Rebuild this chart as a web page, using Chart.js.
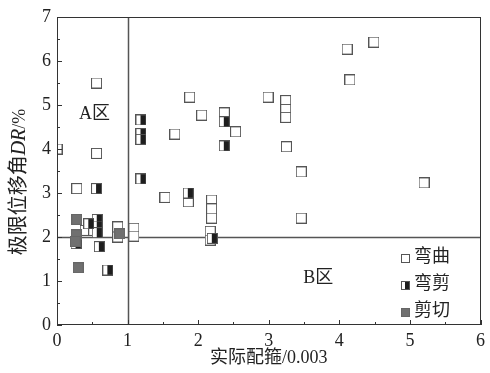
<!DOCTYPE html>
<html>
<head>
<meta charset="utf-8">
<script src="https://cdn.jsdelivr.net/npm/chart.js@4.4.0/dist/chart.umd.min.js"></script>
<style>
    html, body { margin: 0; padding: 0; background: #fff; }
</style>
</head>
<body>
<canvas id="myChart" width="490" height="373"></canvas>
<script>
// 弯曲 (bending)
const bendX = [0, 0.56, 0.56, 0.28, 0.40, 0.52, 0.86, 0.86, 1.09, 1.09, 1.67, 1.88, 2.05, 2.53, 2.99,
    3.24, 3.24, 3.24, 3.25, 3.46, 3.46, 1.53, 1.86, 2.19, 2.19, 2.19, 2.17, 2.17, 4.11, 4.49, 4.15, 5.2, 2.37];
const bendY = [4.0, 5.5, 3.9, 3.1, 2.15, 2.15, 2.23, 2.0, 2.2, 2.02, 4.34, 5.18, 4.77, 4.39, 5.18,
    5.1, 4.9, 4.72, 4.05, 3.48, 2.43, 2.9, 2.8, 2.84, 2.64, 2.43, 2.13, 1.93, 6.27, 6.43, 5.57, 3.23, 4.82];

// 弯剪 (bending-shear)
const mixX = [0.56, 0.57, 0.57, 0.57, 0.45, 0.6, 0.72, 0.27, 1.19, 1.19, 1.19, 1.19, 1.86, 2.37, 2.37, 2.2];
const mixY = [3.1, 2.4, 2.25, 2.1, 2.3, 1.78, 1.25, 1.85, 4.66, 4.35, 4.22, 3.32, 3.0, 4.62, 4.07, 1.97];

// 剪切 (shear)
const shearX = [0.28, 0.27, 0.26, 0.3, 0.89];
const shearY = [2.4, 2.05, 1.9, 1.3, 2.07];

const seriesNames = ['弯曲', '弯剪', '剪切'];
const xTicks = [0, 1, 2, 3, 4, 5, 6];
const yTicks = [0, 1, 2, 3, 4, 5, 6, 7];
const splitX = 1;
const splitY = 2;

const serif = '"Liberation Serif", "Noto Sans CJK SC", serif';

function makeMarker(kind, s) {
    const c = document.createElement('canvas');
    c.width = s; c.height = s;
    const g = c.getContext('2d');
    g.fillStyle = '#fff';
    g.fillRect(0, 0, s, s);
    let edge = '#555';
    if (kind === 'shear') {
        g.fillStyle = '#707070';
        g.fillRect(0, 0, s, s);
        edge = '#666';
    }
    if (kind === 'mixed') {
        g.fillStyle = '#1e1e1e';
        g.fillRect(Math.floor(s / 2), 0, Math.ceil(s / 2), s);
    }
    g.strokeStyle = edge;
    g.lineWidth = 1;
    g.strokeRect(0.5, 0.5, s - 1, s - 1);
    return c;
}

const mBend = makeMarker('bend', 11);
const mMix = makeMarker('mixed', 11);
const mShear = makeMarker('shear', 11);
const legendMarkers = [makeMarker('bend', 9), makeMarker('mixed', 9), makeMarker('shear', 9)];

function pts(xs, ys) {
    return xs.map(function (x, i) { return {x: x, y: ys[i]}; });
}

const framePlugin = {
    id: 'frame',
    beforeDatasetsDraw: function (chart) {
        const ctx = chart.ctx;
        const xs = chart.scales.x, ys = chart.scales.y;
        const a = chart.chartArea;
        ctx.save();
        ctx.strokeStyle = '#555';
        ctx.lineWidth = 1.5;
        ctx.beginPath();
        const px = Math.round(xs.getPixelForValue(splitX)) + 0.5;
        const py = Math.round(ys.getPixelForValue(splitY)) + 0.5;
        ctx.moveTo(px, a.top); ctx.lineTo(px, a.bottom);
        ctx.moveTo(a.left, py); ctx.lineTo(a.right, py);
        ctx.stroke();
        ctx.restore();
    },
    afterDraw: function (chart) {
        const ctx = chart.ctx;
        const xs = chart.scales.x, ys = chart.scales.y;
        const a = chart.chartArea;
        ctx.save();
        ctx.strokeStyle = '#333';
        ctx.lineWidth = 1;
        ctx.strokeRect(Math.round(a.left) + 0.5, Math.round(a.top) + 0.5,
            Math.round(a.right - a.left) - 1, Math.round(a.bottom - a.top) - 1);

        // inward ticks
        ctx.beginPath();
        for (let v = 0; v <= 6.001; v += 0.5) {
            const x = Math.round(xs.getPixelForValue(v)) + 0.5;
            const len = (v % 1 === 0) ? 5 : 3;
            ctx.moveTo(x, a.bottom); ctx.lineTo(x, a.bottom - len);
        }
        for (let v = 0; v <= 7.001; v += 0.5) {
            const y = Math.round(ys.getPixelForValue(v)) + 0.5;
            const len = (v % 1 === 0) ? 5 : 3;
            ctx.moveTo(a.left, y); ctx.lineTo(a.left + len, y);
        }
        ctx.stroke();

        // region labels
        ctx.fillStyle = '#222';
        ctx.font = '18px ' + serif;
        ctx.textAlign = 'center';
        ctx.textBaseline = 'middle';
        ctx.fillText('A区', xs.getPixelForValue(0.53), ys.getPixelForValue(4.8));
        ctx.fillText('B区', xs.getPixelForValue(3.7), ys.getPixelForValue(1.07));

        // legend
        ctx.textAlign = 'left';
        const rows = [258, 285, 312];
        for (let i = 0; i < 3; i++) {
            const m = legendMarkers[i];
            ctx.drawImage(m, 401, rows[i] - 4);
            ctx.fillText(seriesNames[i], 414, rows[i] - 1);
        }

        // y title, rotated, with italic DR
        const parts = [
            {t: '极限位移角', f: '20px ' + serif},
            {t: 'DR', f: 'italic 20px ' + serif},
            {t: '/%', f: '18px ' + serif}
        ];
        let total = 0;
        parts.forEach(function (p) { ctx.font = p.f; p.w = ctx.measureText(p.t).width; total += p.w; });
        ctx.translate(20, 182);
        ctx.rotate(-Math.PI / 2);
        let cx = -total / 2;
        parts.forEach(function (p) {
            ctx.font = p.f;
            ctx.fillText(p.t, cx, 0);
            cx += p.w;
        });
        ctx.restore();
    }
};

let ctx = document.getElementById('myChart').getContext('2d');
let myChart = new Chart(ctx, {
    type: 'scatter',
    data: {
        datasets: [{
            label: seriesNames[2],
            data: pts(shearX, shearY),
            pointStyle: mShear,
            pointRadius: 5,
            clip: 0
        }, {
            label: seriesNames[1],
            data: pts(mixX, mixY),
            pointStyle: mMix,
            pointRadius: 5,
            clip: 0
        }, {
            label: seriesNames[0],
            data: pts(bendX, bendY),
            pointStyle: mBend,
            pointRadius: 5,
            clip: 0
        }]
    },
    options: {
        responsive: false,
        animation: false,
        layout: {padding: {top: 17, right: 8, left: 0, bottom: 0}},
        plugins: {
            legend: {display: false},
            tooltip: {enabled: false}
        },
        scales: {
            x: {
                type: 'linear',
                min: 0, max: 6,
                afterFit: function (s) { s.height = 48; },
                afterBuildTicks: function (s) { s.ticks = xTicks.map(function (v) { return {value: v}; }); },
                grid: {display: false, drawTicks: false},
                border: {display: false},
                ticks: {color: '#222', font: {family: serif, size: 18}, padding: 5, maxRotation: 0},
                title: {display: true, text: '实际配箍/0.003', color: '#222',
                    font: {family: serif, size: 18}, padding: {top: 0, bottom: 4}}
            },
            y: {
                type: 'linear',
                min: 0, max: 7,
                afterFit: function (s) { s.width = 57; },
                afterBuildTicks: function (s) { s.ticks = yTicks.map(function (v) { return {value: v}; }); },
                grid: {display: false, drawTicks: false},
                border: {display: false},
                ticks: {color: '#222', font: {family: serif, size: 18}, padding: 6}
            }
        }
    },
    plugins: [framePlugin]
});
</script>
</body>
</html>
